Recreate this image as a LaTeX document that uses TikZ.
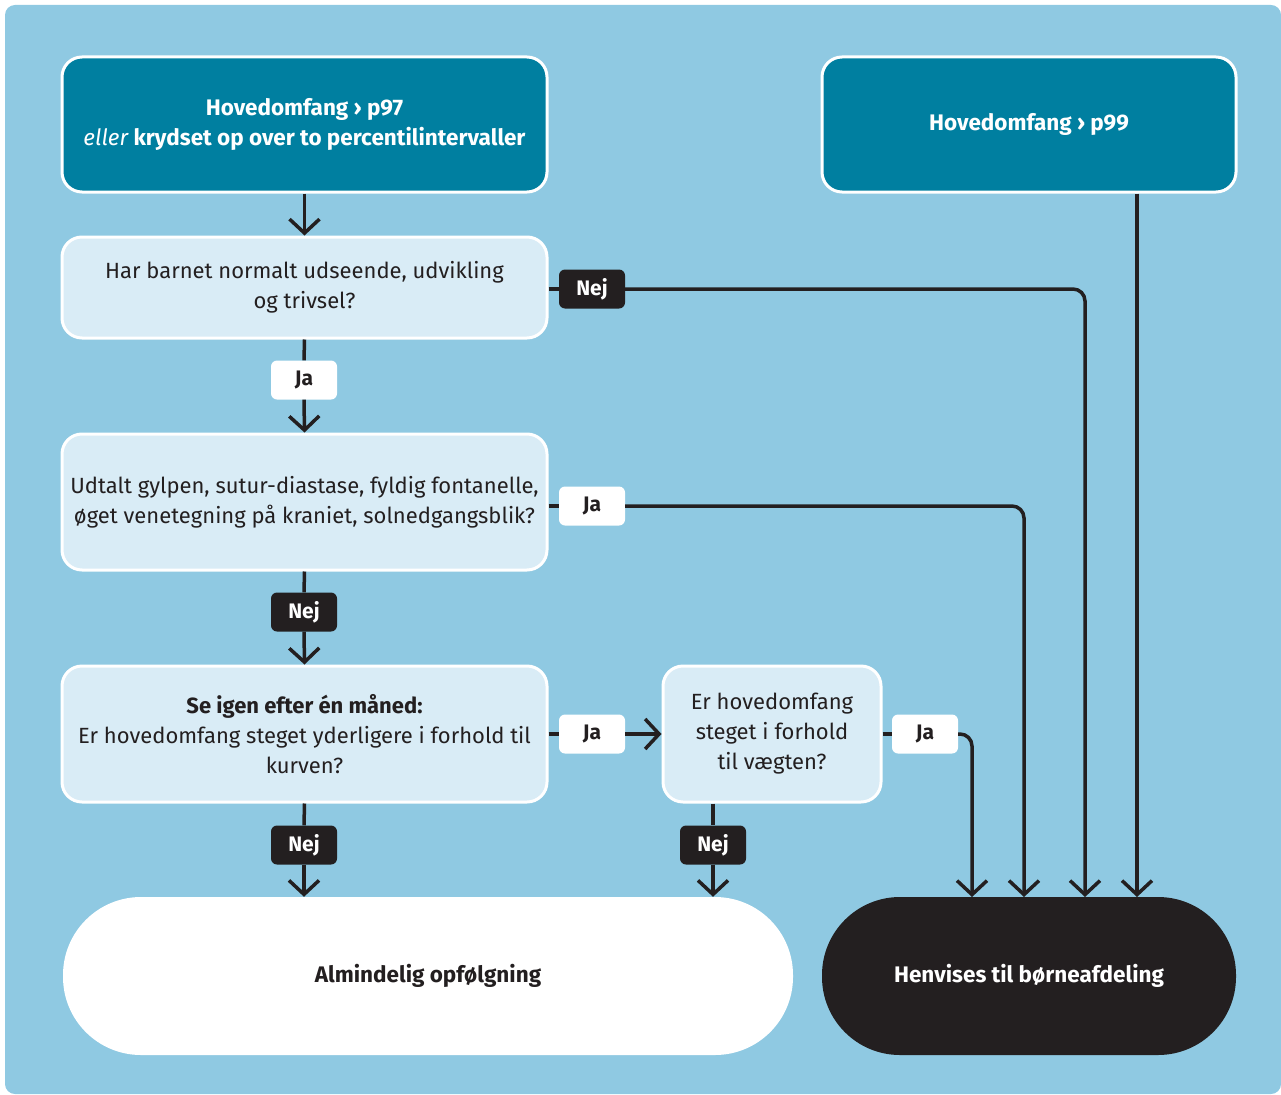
\documentclass[tikz,border=0pt]{standalone}
\usepackage{fontspec}
\setmainfont{Fira Sans}
\usetikzlibrary{arrows.meta}
\definecolor{bgc}{HTML}{8FC9E2}
\definecolor{tealc}{HTML}{007FA0}
\definecolor{lightc}{HTML}{D9ECF6}
\definecolor{blk}{HTML}{231F20}
\tikzset{
  box/.style={draw=white, line width=3pt, rounded corners=20pt, align=center, inner sep=0pt},
  tealbox/.style={box, fill=tealc, text=white, font=\fontsize{22.5}{30}\selectfont\bfseries},
  qbox/.style={box, fill=lightc, text=blk, font=\fontsize{22}{30}\selectfont},
  lab/.style={rounded corners=6pt, minimum width=66pt, minimum height=39pt, inner sep=0pt, font=\fontsize{21}{23}\selectfont\bfseries},
  jalab/.style={lab, fill=white, text=blk},
  nejlab/.style={lab, fill=blk, text=white},
  endbox/.style={rounded corners=78pt, minimum height=158pt, font=\fontsize{22.5}{26}\selectfont\bfseries},
  conn/.style={draw=blk, line width=3.5pt},
  arr/.style={conn, -{Straight Barb[length=14pt, width=30pt, line width=3.5pt]}},
}
\begin{document}
\begin{tikzpicture}[x=1pt, y=-1pt]
\useasboundingbox (0,0) rectangle (1281,1094);
\fill[bgc, rounded corners=10pt] (5,5) rectangle (1281,1094);
% boxes
\node[tealbox, minimum width=485pt, minimum height=135pt] (a) at (304.5,124.5) {Hovedomfang › p97\\{\mdseries\itshape eller} krydset op over to percentilintervaller};
\node[tealbox, minimum width=414pt, minimum height=135pt] (b) at (1029,124.5) {Hovedomfang › p99};
\node[qbox, minimum width=485pt, minimum height=101pt] (q1) at (304.5,287.5) {Har barnet normalt udseende, udvikling\\og trivsel?};
\node[qbox, minimum width=485pt, minimum height=136pt] (q2) at (304.5,502) {Udtalt gylpen, sutur-diastase, fyldig fontanelle,\\øget venetegning på kraniet, solnedgangsblik?};
\node[qbox, minimum width=485pt, minimum height=136pt] (q3) at (304.5,734) {\textbf{Se igen efter én måned:}\\Er hovedomfang steget yderligere i forhold til\\kurven?};
\node[qbox, minimum width=218pt, minimum height=136pt] (q4) at (772,734) {Er hovedomfang\\steget i forhold\\til vægten?};
\node[endbox, fill=white, text=blk, minimum width=730pt] (e1) at (428,976) {Almindelig opfølgning};
\node[endbox, fill=blk, text=white, minimum width=414pt] (e2) at (1029,976) {Henvises til børneafdeling};
% labels
\node[jalab] (ja1) at (304,380) {Ja};
\node[nejlab] (nej1) at (592,289) {Nej};
\node[jalab] (ja2) at (592,506) {Ja};
\node[nejlab] (nej2) at (304,612) {Nej};
\node[jalab] (ja3) at (592,734) {Ja};
\node[nejlab] (nej3) at (304,845) {Nej};
\node[nejlab] (nej4) at (713,845) {Nej};
\node[jalab] (ja4) at (925,734) {Ja};
% target coordinates on end box top
\coordinate (t1) at (972,897);
\coordinate (t2) at (1024,897);
\coordinate (t3) at (1085,897);
\coordinate (t4) at (1137,897);
% connectors
\draw[arr] (a.south) -- (q1.north);
\draw[conn] (q1.south) -- (ja1.north);
\draw[arr] (ja1.south) -- (q2.north);
\draw[conn] (q1.east |- nej1) -- (nej1.west);
\draw[arr, rounded corners=12pt] (nej1.east) -| (t3);
\draw[conn] (q2.east |- ja2) -- (ja2.west);
\draw[arr, rounded corners=12pt] (ja2.east) -| (t2);
\draw[conn] (q2.south) -- (nej2.north);
\draw[arr] (nej2.south) -- (q3.north);
\draw[conn] (q3.east) -- (ja3.west);
\draw[arr] (ja3.east) -- (q4.west);
\draw[conn] (q3.south) -- (nej3.north);
\draw[arr] (nej3.south) -- (e1.north -| nej3);
\draw[conn] (nej4 |- q4.south) -- (nej4.north);
\draw[arr] (nej4.south) -- (e1.north -| nej4);
\draw[conn] (q4.east |- ja4) -- (ja4.west);
\draw[arr, rounded corners=12pt] (ja4.east) -| (t1);
\draw[arr] (b.south -| t4) -- (t4);
\end{tikzpicture}
\end{document}
